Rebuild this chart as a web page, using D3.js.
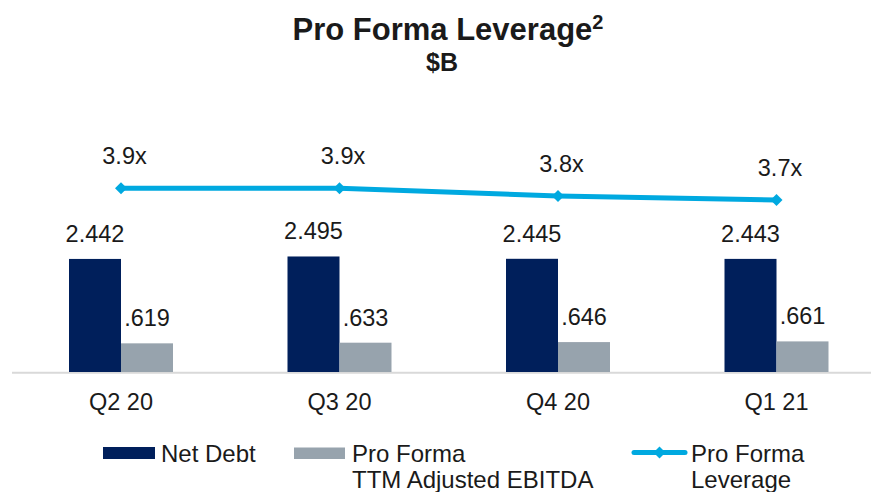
<!DOCTYPE html>
<html>
<head>
<meta charset="utf-8">
<script src="https://cdn.jsdelivr.net/npm/d3@7"></script>
<style>
  html, body { margin: 0; padding: 0; background: #fff; }
  svg { display: block; }
  text { font-family: "Liberation Sans", Arial, sans-serif; fill: #1a1a1a; }
</style>
</head>
<body>
<svg id="chart" width="871" height="492"></svg>
<script>
const categories = ["Q2 20", "Q3 20", "Q4 20", "Q1 21"];
const netDebt = [2.442, 2.495, 2.445, 2.443];
const ebitda = [0.619, 0.633, 0.646, 0.661];
const leverage = [3.9, 3.9, 3.77, 3.7];
const barLabels = [["2.442", "2.495", "2.445", "2.443"], [".619", ".633", ".646", ".661"]];
const seriesNames = ["Net Debt", "Pro Forma TTM Adjusted EBITDA"];
const colors = { netDebt: "#001f5b", ebitda: "#97a3ad", line: "#00a9e0" };

const svg = d3.select("#chart");
const W = 871;

// Title
const title = svg.append("text")
  .attr("x", 448).attr("y", 40)
  .attr("text-anchor", "middle")
  .style("font-weight", "bold").style("font-size", "31px");
title.append("tspan").text("Pro Forma Leverage");
title.append("tspan").text("2").attr("dy", -11).style("font-size", "20px");
svg.append("text")
  .attr("x", 442).attr("y", 71)
  .attr("text-anchor", "middle")
  .style("font-weight", "bold").style("font-size", "25px")
  .text("$B");

// Scales
const x = d3.scaleBand().domain(categories).range([11.75, 885.75]).padding(0);
const step = x.bandwidth();
const barW = 52;
const xs = d3.scaleBand().domain([0, 1]).range([step / 2 - barW, step / 2 + barW]).padding(0);
const y = d3.scaleLinear().domain([0, 3]).range([372, 372 - 138.9]);
const yL = d3.scaleLinear().domain([3.0, 4.0]).range([240.95, 182.45]);

// Axis line
svg.append("line")
  .attr("x1", 12).attr("x2", W).attr("y1", 372.7).attr("y2", 372.7)
  .attr("stroke", "#d9d9d9").attr("stroke-width", 2);

// Bars
const groups = svg.selectAll("g.cat").data(categories).join("g")
  .attr("class", "cat")
  .attr("transform", d => `translate(${x(d)},0)`);

const seriesVals = [netDebt, ebitda];
const seriesCols = [colors.netDebt, colors.ebitda];

groups.each(function(cat, i) {
  const g = d3.select(this);
  [0, 1].forEach(s => {
    const v = seriesVals[s][i];
    g.append("rect")
      .attr("x", xs(s)).attr("width", xs.bandwidth())
      .attr("y", y(v)).attr("height", y(0) - y(v))
      .attr("fill", seriesCols[s]);
    g.append("text")
      .attr("x", xs(s) + xs.bandwidth() / 2)
      .attr("y", y(v) - 17)
      .attr("text-anchor", "middle")
      .style("font-size", "23.5px")
      .text(barLabels[s][i]);
  });
  g.append("text")
    .attr("x", step / 2).attr("y", 410)
    .attr("text-anchor", "middle")
    .style("font-size", "23.5px")
    .text(cat);
});

// Line
const cx = d => x(d) + step / 2;
const lineGen = d3.line().x((d, i) => cx(categories[i])).y(d => yL(d));
svg.append("path")
  .datum(leverage)
  .attr("d", lineGen)
  .attr("fill", "none")
  .attr("stroke", colors.line)
  .attr("stroke-width", 5)
  .attr("stroke-linejoin", "round");

const diamond = d3.symbol().type(d3.symbolSquare).size(72);
svg.selectAll("path.marker").data(leverage).join("path")
  .attr("class", "marker")
  .attr("d", diamond)
  .attr("fill", colors.line)
  .attr("transform", (d, i) => `translate(${cx(categories[i])},${yL(d)}) rotate(45)`);

svg.selectAll("text.lev").data(leverage).join("text")
  .attr("class", "lev")
  .attr("x", (d, i) => cx(categories[i]) + 3.5)
  .attr("y", d => yL(d) - 24)
  .attr("text-anchor", "middle")
  .style("font-size", "23.5px")
  .text(d => d3.format(".1f")(d) + "x");

// Legend
const lg = svg.append("g");
lg.append("rect").attr("x", 103).attr("y", 447).attr("width", 52).attr("height", 12).attr("fill", colors.netDebt);
lg.append("text").attr("x", 161).attr("y", 461.5).style("font-size", "24px").text("Net Debt");

lg.append("rect").attr("x", 294).attr("y", 447.5).attr("width", 51).attr("height", 11.5).attr("fill", colors.ebitda);
const t2 = lg.append("text").attr("x", 352).attr("y", 461.5).style("font-size", "24px");
t2.append("tspan").attr("x", 352).text("Pro Forma");
t2.append("tspan").attr("x", 352).attr("dy", 26.7).text("TTM Adjusted EBITDA");

lg.append("line").attr("x1", 634).attr("x2", 685).attr("y1", 452.5).attr("y2", 452.5)
  .attr("stroke", colors.line).attr("stroke-width", 5).attr("stroke-linecap", "round");
lg.append("path").attr("d", diamond).attr("fill", colors.line)
  .attr("transform", "translate(659.5,452.5) rotate(45)");
const t3 = lg.append("text").attr("x", 691).attr("y", 461.5).style("font-size", "24px");
t3.append("tspan").attr("x", 691).text("Pro Forma");
t3.append("tspan").attr("x", 691).attr("dy", 26.7).text("Leverage");
</script>
</body>
</html>
